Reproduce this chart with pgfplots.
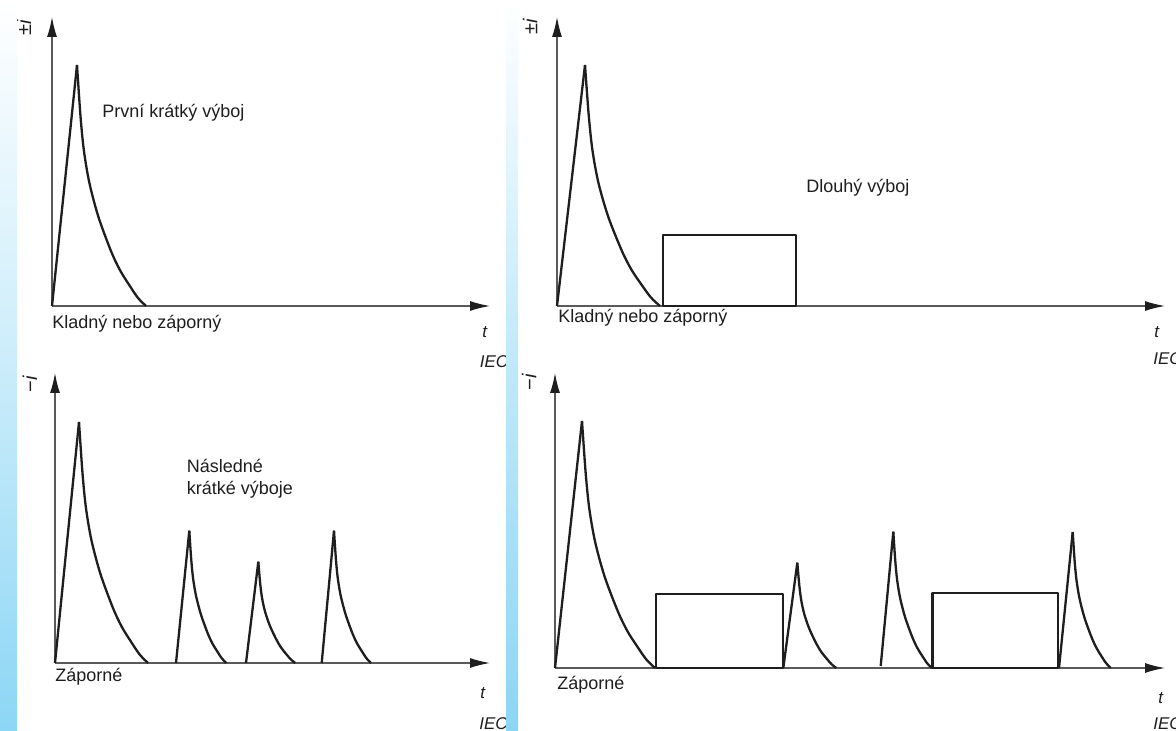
\documentclass[border=0pt]{standalone}
\usepackage{fontspec}
\setmainfont{Liberation Sans}
\usepackage{pgfplots}
\pgfplotsset{compat=1.18}
\usetikzlibrary{arrows.meta}
\definecolor{curve}{HTML}{1E1E1E}
\definecolor{axisgray}{HTML}{5A5A5A}
\definecolor{stripblue}{RGB}{140,214,245}
\pgfplotsset{panel/.style={
  x=0.5pt, y=0.5pt, xmin=0, ymin=0, axis lines=left,
  xtick=\empty, ytick=\empty, clip=false, anchor=south west,
  axis line style={draw=axisgray, line width=0.7pt},
  x axis line style={-{Latex[length=10pt,width=5pt,color=curve]}},
  y axis line style={-{Latex[length=10pt,width=5pt,color=curve]}},
  pk/.style={draw=curve, line width=1.15pt, mark=none, line join=round},
  dk/.style={pk, smooth},
}}
\begin{document}
\begin{tikzpicture}
\useasboundingbox (0,0) rectangle (588pt,-365.5pt);
\fill[white] (0,0) rectangle (588pt,-365.5pt);
% ---------------- panel 1: first short stroke
\begin{axis}[panel, at={(26pt,-153pt)}, xmax=438, ymax=289]
\addplot[pk] coordinates {(0,0) (25,241)};
\addplot[dk] coordinates {(25,241) (28.45,190.4) (31.9,155.4) (37.42,122.9) (46.39,89.2) (58.81,55.4) (67.78,36.2) (76.75,21.7) (85.72,8.4) (94,0)};
\end{axis}
% ---------------- panel 2: long stroke
\begin{axis}[panel, at={(278.5pt,-153pt)}, xmax=608, ymax=289]
\addplot[pk] coordinates {(0,0) (28,241)};
\addplot[dk] coordinates {(28,241) (31.75,190.4) (35.5,155.4) (41.5,122.9) (51.25,89.2) (64.75,55.4) (74.5,36.2) (84.25,21.7) (94,8.4) (103,0)};
\addplot[pk] coordinates {(106,0) (106,71) (239,71) (239,0)} -- cycle;
\end{axis}
% ---------------- panel 3: subsequent short strokes
\begin{axis}[panel, at={(27.5pt,-331.5pt)}, xmax=435, ymax=290]
\addplot[pk] coordinates {(0,0) (24,241)};
\addplot[dk] coordinates {(24,241) (27.45,190.4) (30.9,155.4) (36.42,122.9) (45.39,89.2) (57.81,55.4) (66.78,36.2) (75.75,21.7) (84.72,8.4) (93,0)};
\addplot[pk] coordinates {(121,0) (134.3,132.3)};
\addplot[dk] coordinates {(134.3,132.3) (136.15,104.5) (138.0,85.3) (140.96,67.5) (145.77,49.0) (152.43,30.4) (157.24,19.8) (162.05,11.9) (166.86,4.6) (171.3,0)};
\addplot[pk] coordinates {(191,0) (203.3,101.3)};
\addplot[dk] coordinates {(203.3,101.3) (205.15,80.0) (207.0,65.3) (209.96,51.7) (214.77,37.5) (221.43,23.3) (226.24,15.2) (231.05,9.1) (235.86,3.5) (240.3,0)};
\addplot[pk] coordinates {(266.7,0) (279,132.3)};
\addplot[dk] coordinates {(279,132.3) (280.85,104.5) (282.7,85.3) (285.66,67.5) (290.47,49.0) (297.13,30.4) (301.94,19.8) (306.75,11.9) (311.56,4.6) (316,0)};
\end{axis}
% ---------------- panel 4: negative, mixed
\begin{axis}[panel, at={(277.5pt,-334pt)}, xmax=610, ymax=295]
\addplot[pk] coordinates {(0,0) (27,247)};
\addplot[dk] coordinates {(27,247) (30.65,195.1) (34.3,159.3) (40.14,126.0) (49.63,91.4) (62.77,56.8) (72.26,37.1) (81.75,22.2) (91.24,8.6) (100,0)};
\addplot[pk] coordinates {(101,0) (101,74) (227.7,74) (227.7,0)} -- cycle;
\addplot[pk] coordinates {(228.3,0) (242.3,105.3)};
\addplot[dk] coordinates {(242.3,105.3) (244.25,83.2) (246.2,67.9) (249.32,53.7) (254.39,39.0) (261.41,24.2) (266.48,15.8) (271.55,9.5) (276.62,3.7) (281.3,0)};
\addplot[pk] coordinates {(325.7,2) (338.3,136.3)};
\addplot[dk] coordinates {(338.3,136.3) (340.22,107.7) (342.14,87.9) (345.21,69.5) (350.20,50.4) (357.12,31.3) (362.11,20.4) (367.1,12.3) (372.09,4.8) (376.7,0)};
\addplot[pk] coordinates {(377.5,0) (377.5,75) (502.7,75) (502.7,0)} -- cycle;
\addplot[pk] coordinates {(504,0) (517.7,136)};
\addplot[dk] coordinates {(517.7,136) (519.6,107.4) (521.5,87.7) (524.54,69.4) (529.48,50.3) (536.32,31.3) (541.26,20.4) (546.2,12.2) (551.14,4.8) (555.7,0)};
\end{axis}
% ---------------- texts
\begin{scope}[x=0.5pt, y=-0.5pt, every node/.style={inner sep=0pt, text=curve}]
\fontsize{9}{11}\selectfont
\node[anchor=base west] at (102,118) {První krátký výboj};
\node[anchor=base west] at (52,329) {Kladný nebo záporný};
\node[anchor=base west] at (806,193) {Dlouhý výboj};
\node[anchor=base west] at (558,323) {Kladný nebo záporný};
\node[anchor=base west] at (186.5,473) {Následné};
\node[anchor=base west] at (186.5,494.5) {krátké výboje};
\node[anchor=base west] at (55,681) {Záporné};
\node[anchor=base west] at (557,689) {Záporné};
\begin{scope}[every node/.append style={font=\fontsize{8.5}{10}\selectfont\itshape}]
\node[anchor=base west] at (482,338) {t};
\node[anchor=base west] at (1154,338) {t};
\node[anchor=base west] at (480,698) {t};
\node[anchor=base west] at (1158,703) {t};
\node[anchor=base west] at (479.5,367.5) {IEC};
\node[anchor=base west] at (1153,365) {IEC};
\node[anchor=base west] at (479,729) {IEC};
\node[anchor=base west] at (1153,729) {IEC};
\end{scope}
\begin{scope}[every node/.append style={font=\fontsize{10}{12}\selectfont}]
\node[rotate=90] at (24,28) {±\textit{i}};
\node[rotate=90] at (530,27) {±\textit{i}};
\node[rotate=90] at (30,384) {−\textit{i}};
\node[rotate=90] at (529,382) {−\textit{i}};
\end{scope}
% blue strips
\shade[top color=white, bottom color=stripblue, middle color=stripblue!45] (0,0) rectangle (17,731);
\shade[top color=white, bottom color=stripblue, middle color=stripblue!55] (506,0) rectangle (518,731);
\end{scope}
\end{tikzpicture}
\end{document}
